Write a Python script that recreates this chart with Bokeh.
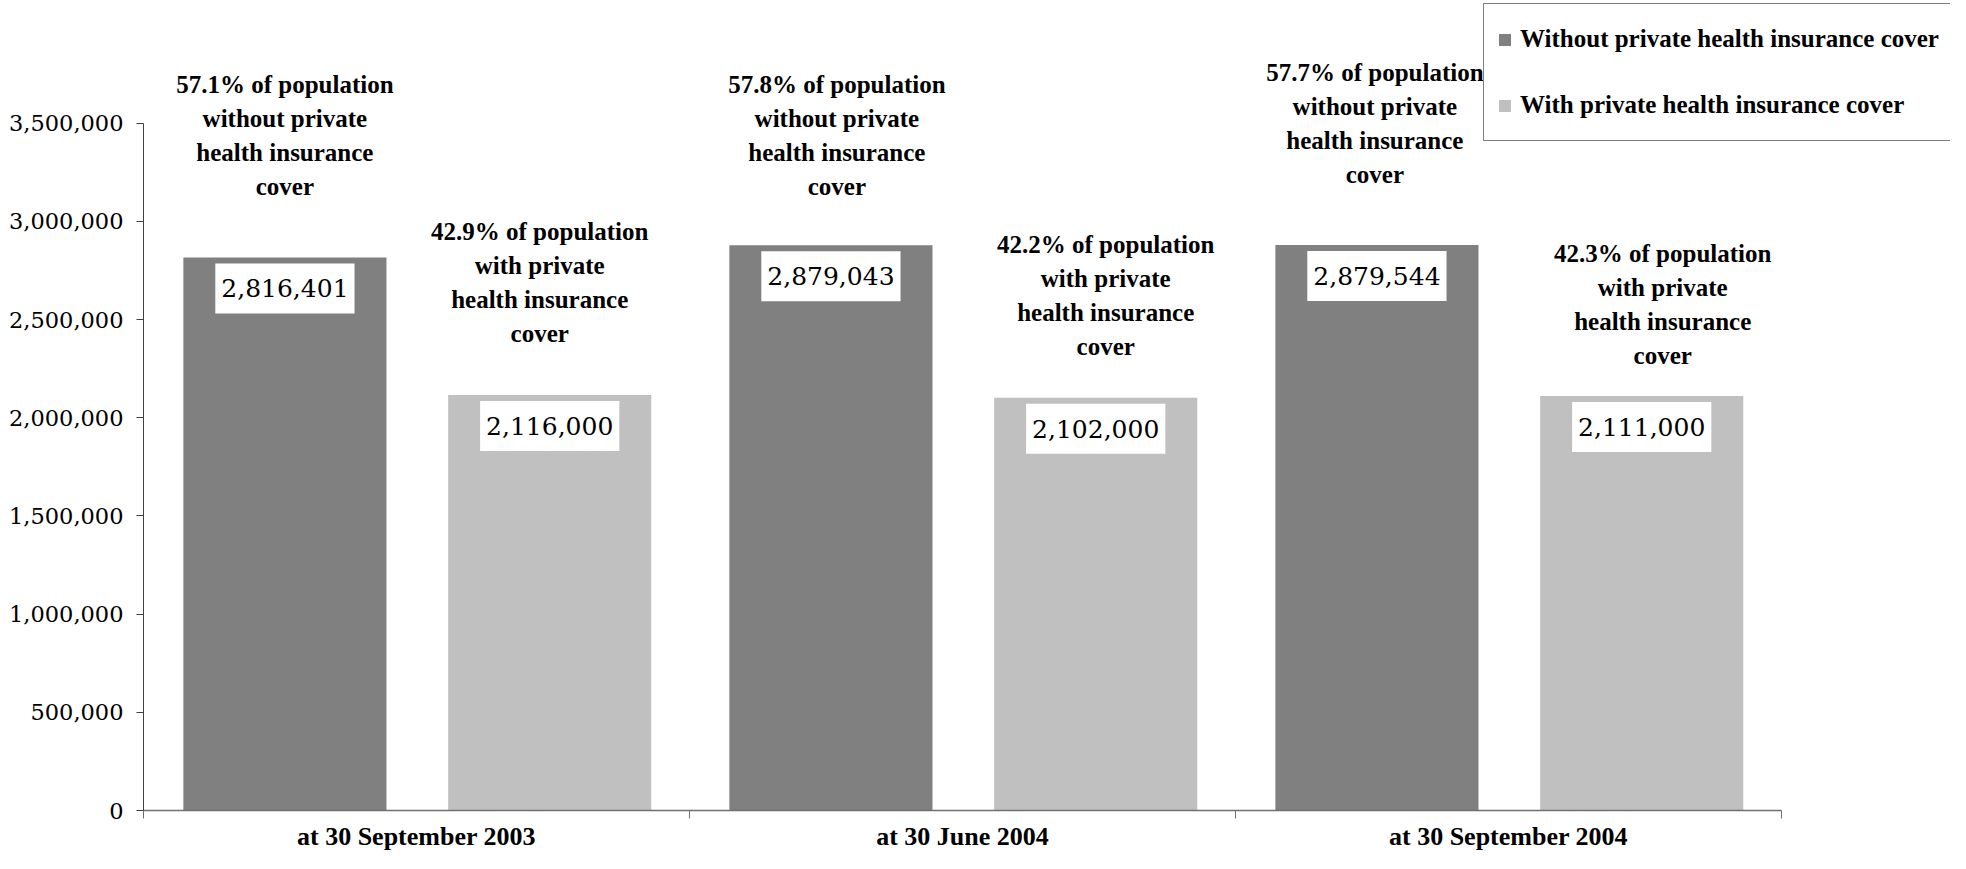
import numpy as np
from bokeh.plotting import figure
from bokeh.models import (ColumnDataSource, Range1d, FixedTicker, NumeralTickFormatter,
                          Label, Legend, LegendItem)
from bokeh.transform import dodge
from bokeh.embed import file_html
from bokeh.resources import INLINE

# ---------------- data ----------------
categories = ["at 30 September 2003", "at 30 June 2004", "at 30 September 2004"]
without_cover = [2816401, 2879043, 2879544]
with_cover = [2116000, 2102000, 2111000]
share_without = [57.1, 57.8, 57.7]
share_with = [42.9, 42.2, 42.3]
series_names = ["Without private health insurance cover", "With private health insurance cover"]
y_ticks = [0, 500000, 1000000, 1500000, 2000000, 2500000, 3000000, 3500000]

# ---------------- layout / style ----------------
W, H = 1950, 853
LEFT = 143
BOTTOM = 41
AXIS_PX = 1638           # pixel length of the category axis
Y_AXIS_PX = 689          # pixel length from 0 to 3,500,000
frame_h = H - BOTTOM
frame_w = W - LEFT
y_max = y_ticks[-1]
n = len(categories)

DARK = "#808080"
LIGHT = "#C0C0C0"
SERIF_B = "Liberation Serif"
SERIF_N = "DejaVu Serif"

offs = (-0.241, 0.244)
bar_w = 0.372
# per-annotation layout tweaks (screen px): [without, with] for each category
pct_shift = [(0, -10), (6, 10), (-2, 21)]
pct_lift = [(122, 112), (110, 102), (122, 91)]

centers = np.arange(n) + 0.5

p = figure(width=W, height=H,
           x_range=Range1d(0, n * frame_w / AXIS_PX),
           y_range=Range1d(0, y_max * frame_h / Y_AXIS_PX),
           output_backend="svg", toolbar_location=None,
           min_border_left=LEFT, min_border_right=0, min_border_top=0,
           min_border_bottom=BOTTOM)
p.outline_line_color = None
p.grid.visible = False
p.background_fill_color = "white"

src = ColumnDataSource(dict(x=centers, without=without_cover, withc=with_cover))
r1 = p.vbar(x=dodge("x", offs[0], range=p.x_range), top="without", width=bar_w,
            source=src, fill_color=DARK, line_color=None)
r2 = p.vbar(x=dodge("x", offs[1], range=p.x_range), top="withc", width=bar_w,
            source=src, fill_color=LIGHT, line_color=None)

# axes
xa = p.xaxis[0]
xa.ticker = FixedTicker(ticks=list(centers), minor_ticks=list(range(n + 1)))
xa.major_label_overrides = {float(c): cat for c, cat in zip(centers, categories)}
xa.bounds = (0, n)
xa.axis_line_color = "#707070"
xa.axis_line_width = 1.5
xa.major_tick_line_color = None
xa.major_tick_out = 0
xa.major_tick_in = 0
xa.minor_tick_line_color = "#707070"
xa.minor_tick_out = 8
xa.minor_tick_in = 0
xa.major_label_standoff = 3
xa.major_label_text_font = SERIF_B
xa.major_label_text_font_style = "bold"
xa.major_label_text_font_size = "26px"
xa.major_label_text_color = "black"

ya = p.yaxis[0]
ya.ticker = FixedTicker(ticks=y_ticks)
ya.formatter = NumeralTickFormatter(format="0,0")
ya.bounds = (0, y_max)
ya.axis_line_color = "#404040"
ya.major_tick_line_color = "#404040"
ya.major_tick_out = 7
ya.major_tick_in = 0
ya.minor_tick_line_color = None
ya.major_label_standoff = 13
ya.major_label_text_font = SERIF_N
ya.major_label_text_font_size = "22.5px"
ya.major_label_text_color = "black"

# annotations
for i in range(n):
    for s, (vals, shares, word) in enumerate(((without_cover, share_without, "without"),
                                               (with_cover, share_with, "with"))):
        xc = centers[i] + offs[s]
        v = vals[i]
        txt = f"{shares[i]}% of population\n{word} private\nhealth insurance\ncover"
        p.add_layout(Label(x=xc, y=v, x_offset=pct_shift[i][s], y_offset=pct_lift[i][s],
                           text=txt, text_align="center", text_baseline="middle",
                           text_font=SERIF_B, text_font_style="bold", text_font_size="25px",
                           text_line_height=1.26, text_color="black"))
        p.add_layout(Label(x=xc, y=v, y_offset=-31, text=f"{v:,}",
                           text_align="center", text_baseline="middle",
                           text_font=SERIF_N, text_font_size="25px", text_color="black",
                           background_fill_color="white", padding=(6, 16)))

legend = Legend(items=[LegendItem(label=series_names[0], renderers=[r1]),
                       LegendItem(label=series_names[1], renderers=[r2])],
                location=(1340, frame_h - 143), orientation="vertical",
                glyph_width=15, glyph_height=15, label_standoff=8,
                label_height=44, spacing=22, padding=13, margin=0,
                border_line_color="black", border_line_width=1,
                background_fill_color="white", background_fill_alpha=1,
                label_text_font=SERIF_B, label_text_font_style="bold",
                label_text_font_size="25px", label_text_color="black")
p.add_layout(legend)

open("out.html", "w").write(file_html(p, INLINE))
